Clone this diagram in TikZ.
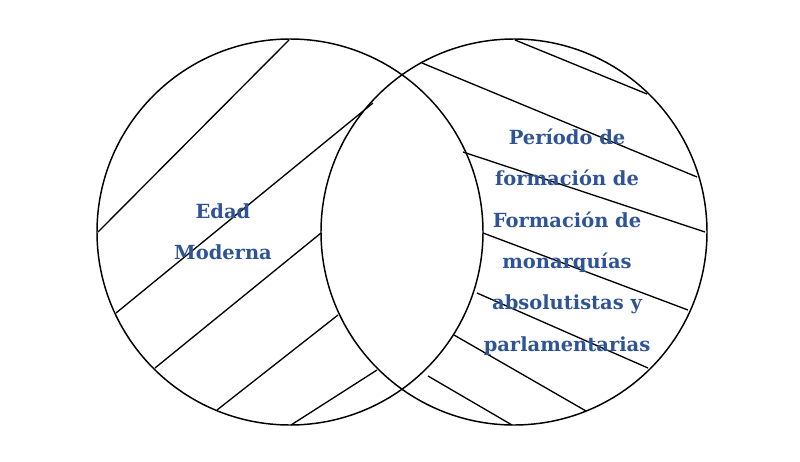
\documentclass[tikz,border=0pt]{standalone}
\usepackage{fontspec}
\setmainfont{DejaVu Serif}
\definecolor{venntext}{RGB}{47,84,150}

\begin{document}
\begin{tikzpicture}
  [x=0.75pt,y=-0.75pt,
   ring/.style={line width=1.1pt, draw=black},
   hatch/.style={line width=1pt},
   txt/.style={text=venntext, font=\bfseries\fontsize{14.6}{31}\selectfont, align=center}]

\useasboundingbox (0,0) rectangle (800,461);

\coordinate (L) at (290,232);
\coordinate (R) at (514,232);

\draw [ring] (L) circle (144.75pt);
\draw [ring] (R) circle (144.75pt);

% left crescent
\draw [hatch] (289,40) -- (98,232);
\draw [hatch] (116,313) -- (373,103);
\draw [hatch] (155,368) -- (321,233);
\draw [hatch] (217,410) -- (338,315);
\draw [hatch] (291,425) -- (377,370);

% right crescent
\draw [hatch] (515,40) -- (647,94);
\draw [hatch] (422,63) -- (697,177);
\draw [hatch] (463,152) -- (705,232);
\draw [hatch] (483,233) -- (688,310);
\draw [hatch] (477,293) -- (648,368);
\draw [hatch] (454,335) -- (586,411);
\draw [hatch] (428,376) -- (512,425);

\node [txt] (edad) at (223,232) {Edad\\Moderna};
\node [txt] (periodo) at (567,242) {Período de\\formación de\\Formación de\\monarquías\\absolutistas y\\parlamentarias};

\end{tikzpicture}
\end{document}
